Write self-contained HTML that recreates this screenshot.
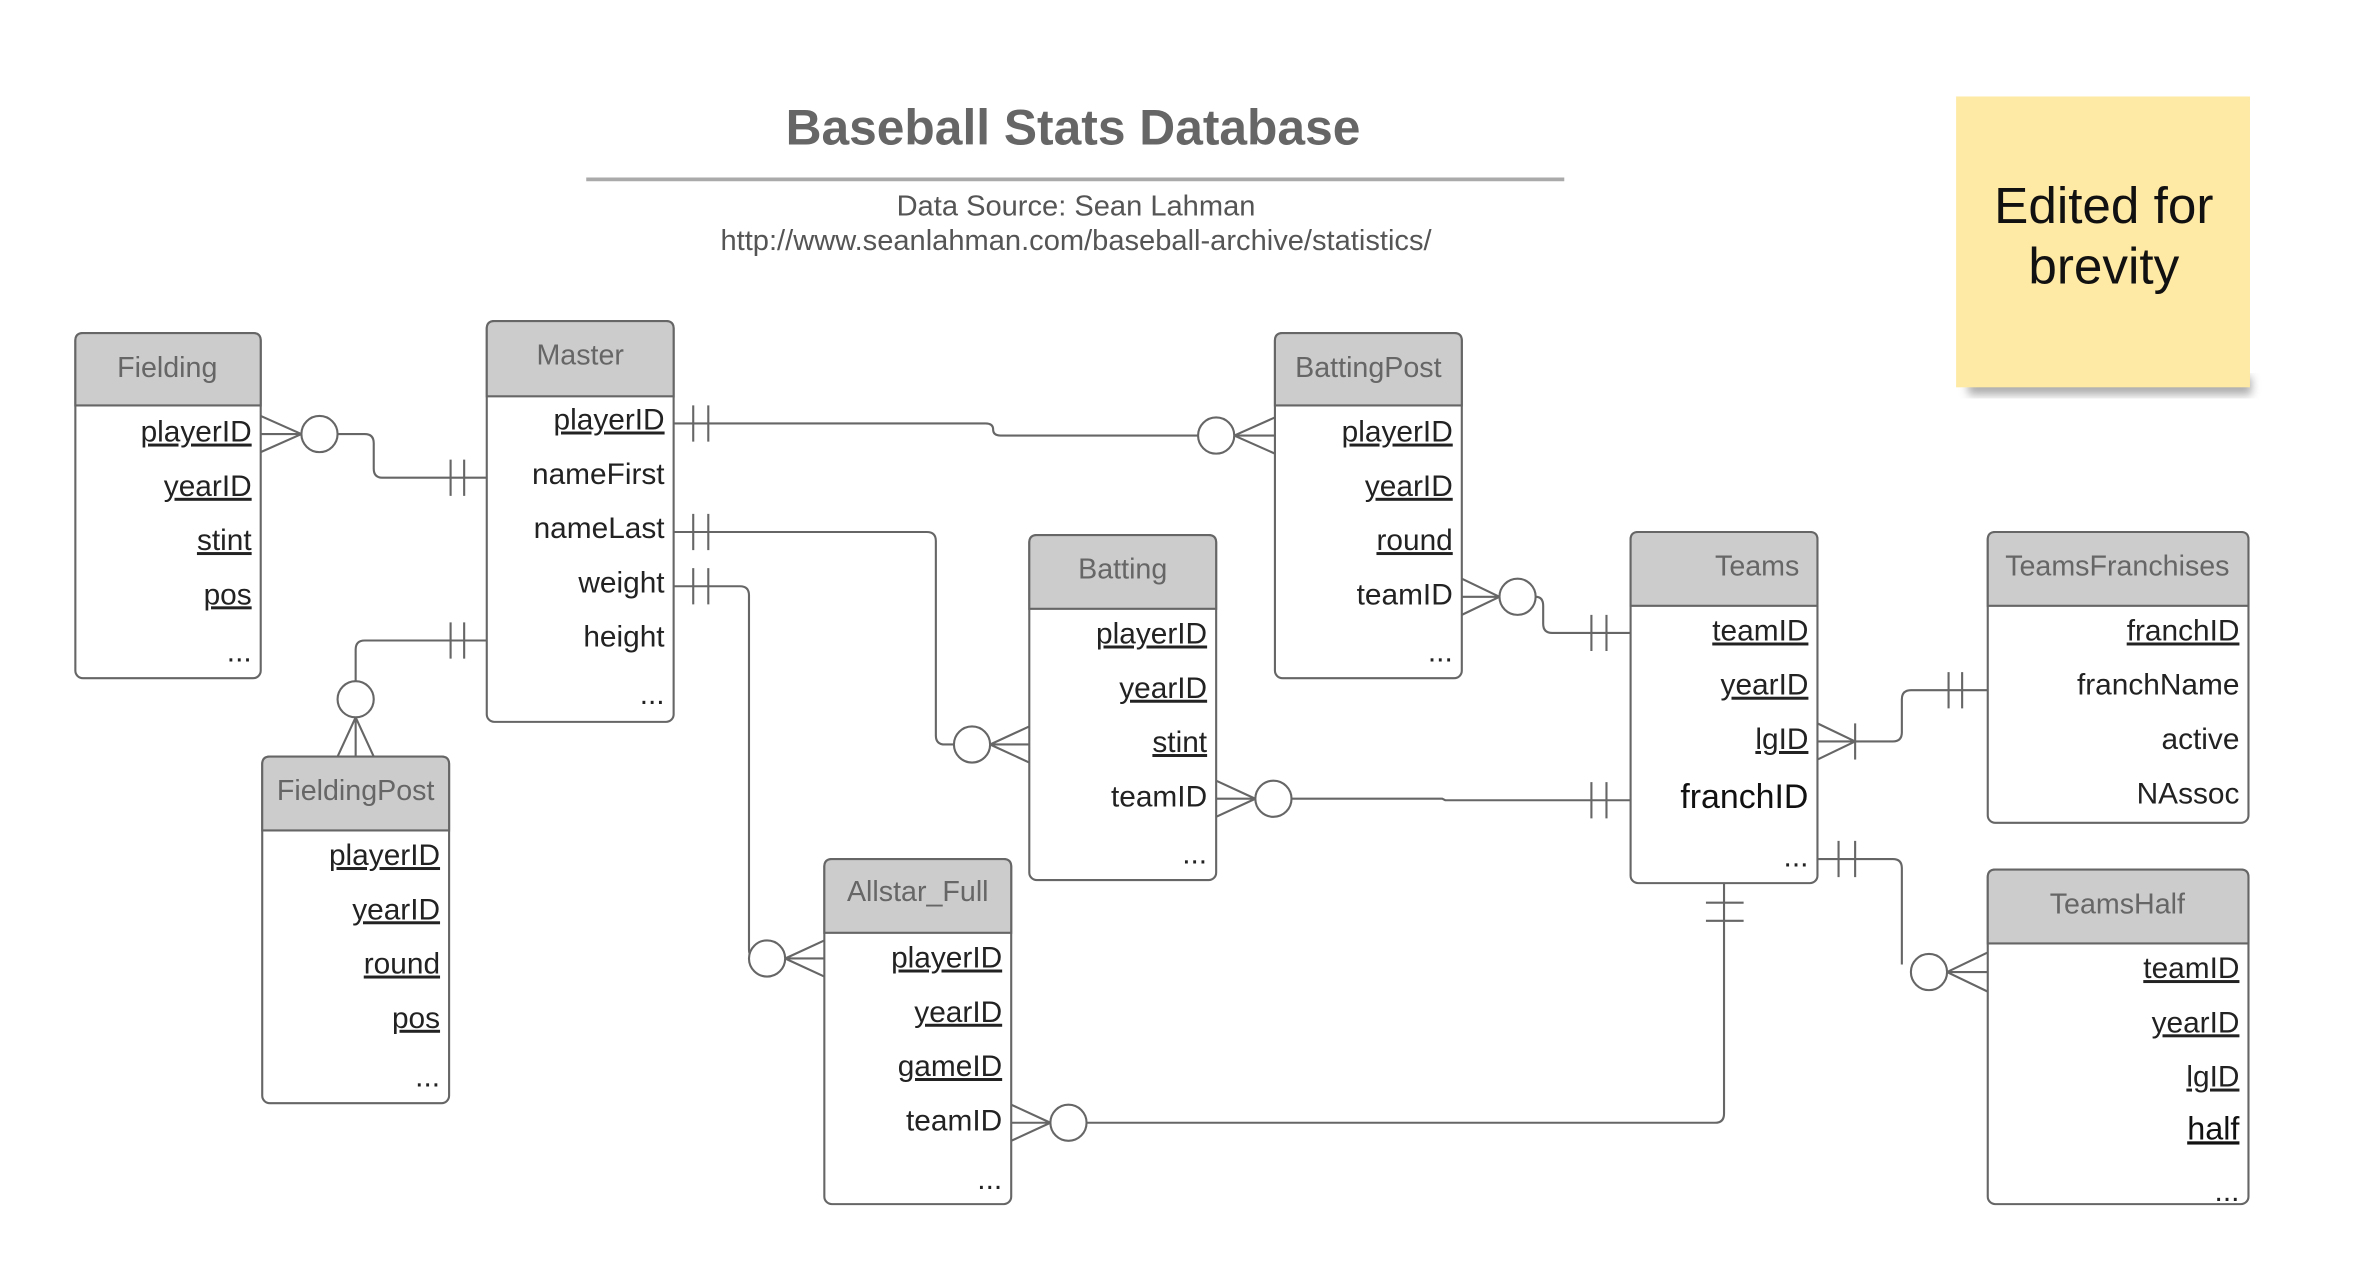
<!DOCTYPE html>
<html><head><meta charset="utf-8"><style>
html,body{margin:0;padding:0;background:#fff;}
svg{display:block;}
text{font-family:"Liberation Sans",Arial,sans-serif;}
.h{font-size:19px;fill:#666;text-anchor:middle;}
.r{font-size:19.8px;fill:#222;text-anchor:end;}
.u{text-decoration:underline;}
.c{fill:none;stroke:#666;stroke-width:1.4;}
.cw{fill:#fff;stroke:#666;stroke-width:1.4;}
</style></head><body>
<svg width="2363" height="1281" viewBox="0 0 1568 850" xmlns="http://www.w3.org/2000/svg">
<defs>
<filter id="sh" x="-20%" y="-20%" width="140%" height="140%"><feGaussianBlur stdDeviation="3"/></filter>
</defs>
<text x="712" y="96" style="font-size:33px;font-weight:bold;fill:#666;text-anchor:middle">Baseball Stats Database</text>
<line x1="389" y1="119" x2="1038" y2="119" stroke="#aaa" stroke-width="2.5"/>
<text x="714" y="143" style="font-size:19.3px;fill:#555;text-anchor:middle">Data Source: Sean Lahman</text>
<text x="714" y="166" style="font-size:19.3px;fill:#555;text-anchor:middle">http://www.seanlahman.com/baseball-archive/statistics/</text>
<rect x="1306" y="250" width="188" height="12" fill="#999" filter="url(#sh)" opacity="0.8"/>
<rect x="1298" y="64" width="195" height="193" fill="#fee9a5"/>
<text x="1396" y="148" style="font-size:34px;fill:#111;text-anchor:middle">Edited for</text>
<text x="1396" y="188" style="font-size:34px;fill:#111;text-anchor:middle">brevity</text>

<g class="c">
<path d="M173 276 L200 288 M173 288 L200 288 M173 300 L200 288"/>
<path d="M224 288 H242 Q248 288 248 294 V311 Q248 317 254 317 H323"/>
<path d="M299 305 V329 M308 305 V329"/>
<path d="M447 281 H654 Q659 281 659 285 Q659 289 664 289 H795"/>
<path d="M460 269 V293 M470 269 V293"/>
<path d="M846 277 L819 289 M846 289 L819 289 M846 301 L819 289"/>
<path d="M447 353 H615 Q621 353 621 359 V488 Q621 494 627 494 H633"/>
<path d="M460 341 V365 M470 341 V365"/>
<path d="M683 482 L657 494 M683 494 L657 494 M683 506 L657 494"/>
<path d="M447 389 H491 Q497 389 497 395 V630 Q497 636 503 636"/>
<path d="M460 377 V401 M470 377 V401"/>
<path d="M547 624 L521 636 M547 636 L521 636 M547 648 L521 636"/>
<path d="M323 425 H242 Q236 425 236 431 V452"/>
<path d="M299 413 V437 M308 413 V437"/>
<path d="M236 476 L224 502 M236 476 L236 502 M236 476 L248 502"/>
<path d="M970 384 L995 396 M970 396 L995 396 M970 408 L995 396"/>
<path d="M1019 396 Q1024 396 1024 402 V414 Q1024 420 1030 420 H1082"/>
<path d="M1056 408 V432 M1066 408 V432"/>
<path d="M807 518 L833 530 M807 530 L833 530 M807 542 L833 530"/>
<path d="M857 530 H957 L959 531 H1082"/>
<path d="M1056 519 V543 M1066 519 V543"/>
<path d="M1206 480 L1231 492 M1206 492 L1231 492 M1206 504 L1231 492"/>
<path d="M1231 480 V504"/>
<path d="M1231 492 H1256 Q1262 492 1262 486 V464 Q1262 458 1268 458 H1319"/>
<path d="M1293 446 V470 M1302 446 V470"/>
<path d="M1206 570 H1256 Q1262 570 1262 576 V640"/>
<path d="M1220 558 V582 M1231 558 V582"/>
<path d="M1319 632 L1292 645 M1319 645 L1292 645 M1319 658 L1292 645"/>
<path d="M671 733 L697 745 M671 745 L697 745 M671 757 L697 745"/>
<path d="M721 745 H1138 Q1144 745 1144 739 V586"/>
<path d="M1132 599 H1157 M1132 611 H1157"/>
</g>
<g class="cw">
<circle cx="212" cy="288" r="12"/>
<circle cx="807" cy="289" r="12"/>
<circle cx="645" cy="494" r="12"/>
<circle cx="509" cy="636" r="12"/>
<circle cx="236" cy="464" r="12"/>
<circle cx="1007" cy="396" r="12"/>
<circle cx="845" cy="530" r="12"/>
<circle cx="1280" cy="645" r="12"/>
<circle cx="709" cy="745" r="12"/>
</g>

<g stroke="#666" stroke-width="1.4">
<rect x="50" y="221" width="123" height="229" rx="5" fill="#fff"/>
<path d="M50 269 V226 Q50 221 55 221 H168 Q173 221 173 226 V269 Z" fill="#ccc"/>
<rect x="323" y="213" width="124" height="266" rx="5" fill="#fff"/>
<path d="M323 263 V218 Q323 213 328 213 H442 Q447 213 447 218 V263 Z" fill="#ccc"/>
<rect x="846" y="221" width="124" height="229" rx="5" fill="#fff"/>
<path d="M846 269 V226 Q846 221 851 221 H965 Q970 221 970 226 V269 Z" fill="#ccc"/>
<rect x="683" y="355" width="124" height="229" rx="5" fill="#fff"/>
<path d="M683 404 V360 Q683 355 688 355 H802 Q807 355 807 360 V404 Z" fill="#ccc"/>
<rect x="1082" y="353" width="124" height="233" rx="5" fill="#fff"/>
<path d="M1082 402 V358 Q1082 353 1087 353 H1201 Q1206 353 1206 358 V402 Z" fill="#ccc"/>
<rect x="1319" y="353" width="173" height="193" rx="5" fill="#fff"/>
<path d="M1319 402 V358 Q1319 353 1324 353 H1487 Q1492 353 1492 358 V402 Z" fill="#ccc"/>
<rect x="1319" y="577" width="173" height="222" rx="5" fill="#fff"/>
<path d="M1319 626 V582 Q1319 577 1324 577 H1487 Q1492 577 1492 582 V626 Z" fill="#ccc"/>
<rect x="174" y="502" width="124" height="230" rx="5" fill="#fff"/>
<path d="M174 551 V507 Q174 502 179 502 H293 Q298 502 298 507 V551 Z" fill="#ccc"/>
<rect x="547" y="570" width="124" height="229" rx="5" fill="#fff"/>
<path d="M547 619 V575 Q547 570 552 570 H666 Q671 570 671 575 V619 Z" fill="#ccc"/>
</g>

<text class="h" x="111" y="250">Fielding</text>
<text class="r u" x="167" y="293">playerID</text>
<text class="r u" x="167" y="329">yearID</text>
<text class="r u" x="167" y="365">stint</text>
<text class="r u" x="167" y="401">pos</text>
<text class="r" x="167" y="439">...</text>
<text class="h" x="385" y="242">Master</text>
<text class="r u" x="441" y="285">playerID</text>
<text class="r" x="441" y="321">nameFirst</text>
<text class="r" x="441" y="357">nameLast</text>
<text class="r" x="441" y="393">weight</text>
<text class="r" x="441" y="429">height</text>
<text class="r" x="441" y="467">...</text>
<text class="h" x="908" y="250">BattingPost</text>
<text class="r u" x="964" y="293">playerID</text>
<text class="r u" x="964" y="329">yearID</text>
<text class="r u" x="964" y="365">round</text>
<text class="r" x="964" y="401">teamID</text>
<text class="r" x="964" y="439">...</text>
<text class="h" x="745" y="384">Batting</text>
<text class="r u" x="801" y="427">playerID</text>
<text class="r u" x="801" y="463">yearID</text>
<text class="r u" x="801" y="499">stint</text>
<text class="r" x="801" y="535">teamID</text>
<text class="r" x="801" y="573">...</text>
<text class="h" x="1166" y="382">Teams</text>
<text class="r u" x="1200" y="425">teamID</text>
<text class="r u" x="1200" y="461">yearID</text>
<text class="r u" x="1200" y="497">lgID</text>
<text class="r" x="1200" y="536" style="font-size:22.5px;fill:#111">franchID</text>
<text class="r" x="1200" y="575">...</text>
<text class="h" x="1405" y="382">TeamsFranchises</text>
<text class="r u" x="1486" y="425">franchID</text>
<text class="r" x="1486" y="461">franchName</text>
<text class="r" x="1486" y="497">active</text>
<text class="r" x="1486" y="533">NAssoc</text>
<text class="h" x="1405" y="606">TeamsHalf</text>
<text class="r u" x="1486" y="649">teamID</text>
<text class="r u" x="1486" y="685">yearID</text>
<text class="r u" x="1486" y="721">lgID</text>
<text class="r u" x="1486" y="756" style="font-size:21.5px;fill:#111">half</text>
<text class="r" x="1486" y="797">...</text>
<text class="h" x="236" y="531">FieldingPost</text>
<text class="r u" x="292" y="574">playerID</text>
<text class="r u" x="292" y="610">yearID</text>
<text class="r u" x="292" y="646">round</text>
<text class="r u" x="292" y="682">pos</text>
<text class="r" x="292" y="721">...</text>
<text class="h" x="609" y="598">Allstar_Full</text>
<text class="r u" x="665" y="642">playerID</text>
<text class="r u" x="665" y="678">yearID</text>
<text class="r u" x="665" y="714">gameID</text>
<text class="r" x="665" y="750">teamID</text>
<text class="r" x="665" y="789">...</text>
</svg>
</body></html>
